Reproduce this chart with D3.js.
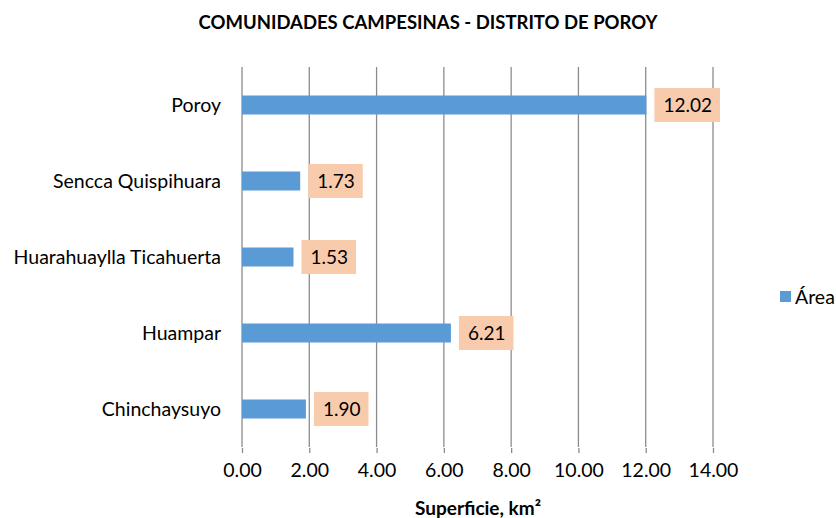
<!DOCTYPE html>
<html>
<head>
<meta charset="utf-8">
<script src="https://cdn.jsdelivr.net/npm/d3@7"></script>
<style>
  body { margin: 0; background: #fff; }
  text { font-family: Lato, "Open Sans", sans-serif; fill: #000; }
</style>
</head>
<body>
<div id="chart"></div>
<script>
(function() {

    const communities = ["Poroy", "Sencca Quispihuara", "Huarahuaylla Ticahuerta", "Huampar", "Chinchaysuyo"];
    const areas = [12.02, 1.73, 1.53, 6.21, 1.90];
    const xTicks = [0, 2, 4, 6, 8, 10, 12, 14];

    const W = 836, H = 518;
    const margin = {top: 67, right: 123, bottom: 71, left: 242};
    const width = W - margin.left - margin.right;
    const height = H - margin.top - margin.bottom;

    let svg = d3.select("#chart").append("svg")
                .attr("width", W)
                .attr("height", H);

    let g = svg.append("g")
                .attr("transform", "translate(" + margin.left + "," + margin.top + ")");

    let x = d3.scaleLinear().domain([0, 14]).range([0, width]);
    let y = d3.scaleBand().domain(communities).range([0, height]).paddingInner(0.75).paddingOuter(0.375);

    // vertical gridlines
    g.selectAll(".grid")
        .data(xTicks)
        .enter().append("line")
        .attr("x1", d => x(d)).attr("x2", d => x(d))
        .attr("y1", 0).attr("y2", height)
        .attr("stroke", "#8c8c8c")
        .attr("stroke-width", 1.3);

    // bottom axis (ticks only)
    let xAxis = g.append("g")
        .attr("transform", "translate(0," + (height + 1) + ")")
        .call(d3.axisBottom(x).tickValues(xTicks).tickFormat(d3.format(".2f")).tickSize(5).tickPadding(10));
    xAxis.select(".domain").remove();
    xAxis.selectAll(".tick line").attr("stroke", "#8c8c8c").attr("stroke-width", 1.3);
    xAxis.selectAll("text").style("font-size", "19.5px").style("font-family", "Lato, sans-serif");

    // category labels
    g.selectAll(".cat")
        .data(communities)
        .enter().append("text")
        .attr("x", -21)
        .attr("y", d => y(d) + y.bandwidth() / 2)
        .attr("dy", "0.35em")
        .attr("text-anchor", "end")
        .style("font-size", "19.5px")
        .text(d => d);

    // bars
    g.selectAll(".bar")
        .data(areas)
        .enter().append("rect")
        .attr("x", x(0))
        .attr("y", (d, i) => y(communities[i]))
        .attr("width", d => x(d) - x(0))
        .attr("height", y.bandwidth())
        .attr("fill", "#5b9bd5");

    // data labels
    let labels = g.selectAll(".lbl")
        .data(areas)
        .enter().append("g")
        .attr("transform", (d, i) => "translate(" + (x(d) + 8) + "," + (y(communities[i]) + y.bandwidth() / 2) + ")");

    labels.append("text")
        .attr("x", 9)
        .attr("dy", "0.35em")
        .style("font-size", "19px")
        .text(d => d.toFixed(2));

    labels.each(function() {
        let t = d3.select(this).select("text");
        let bb = t.node().getBBox();
        d3.select(this).insert("rect", "text")
            .attr("x", 0)
            .attr("y", -17)
            .attr("width", bb.width + 17)
            .attr("height", 34)
            .attr("fill", "#f8cbad");
    });

    // title
    svg.append("text")
        .attr("x", 428)
        .attr("y", 29)
        .attr("text-anchor", "middle")
        .style("font-size", "18.5px")
        .style("font-weight", "bold")
        .text("COMUNIDADES CAMPESINAS - DISTRITO DE POROY");

    // axis title
    svg.append("text")
        .attr("x", 478)
        .attr("y", 515)
        .attr("text-anchor", "middle")
        .style("font-size", "19px")
        .style("font-weight", "bold")
        .text("Superficie, km²");

    // legend
    svg.append("rect")
        .attr("x", 780).attr("y", 291)
        .attr("width", 11).attr("height", 11)
        .attr("fill", "#5b9bd5");
    svg.append("text")
        .attr("x", 795).attr("y", 297)
        .attr("dy", "0.35em")
        .style("font-size", "19.5px")
        .text("Área");

})();
</script>
</body>
</html>
